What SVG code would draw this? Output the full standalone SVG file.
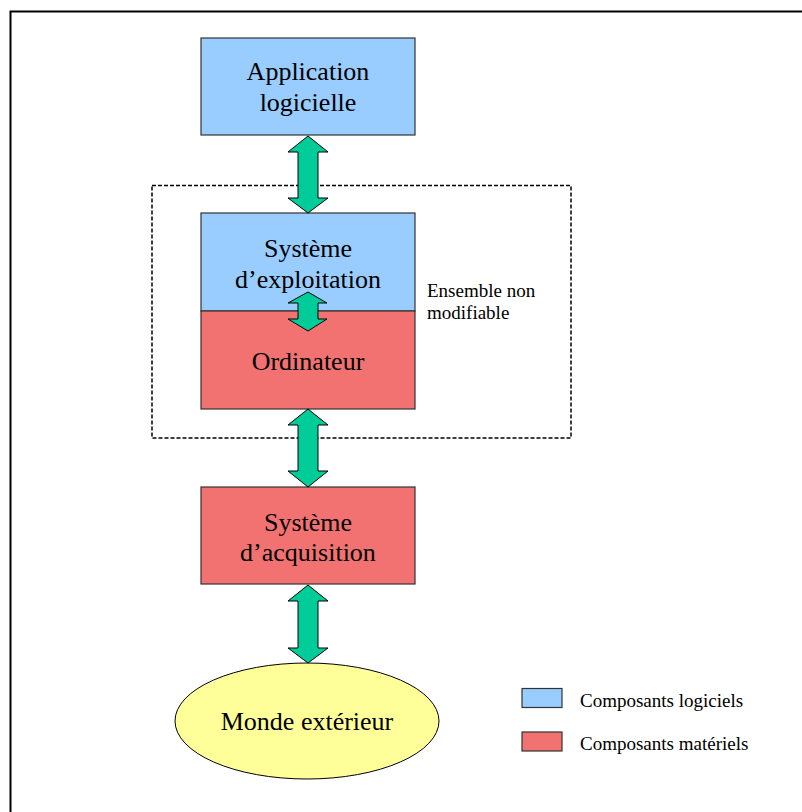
<svg xmlns="http://www.w3.org/2000/svg" width="802" height="812" viewBox="0 0 802 812">
<style>
  .t { font-family: "Liberation Serif", "Times New Roman", serif; fill: #000; }
  .big { font-size: 26px; text-anchor: middle; }
  .small { font-size: 19px; }
  .blue { fill: #99CCFF; stroke: #333; stroke-width: 1.2; }
  .red { fill: #F27272; stroke: #333; stroke-width: 1.2; }
  .arrow { fill: #00CC99; stroke: #000; stroke-width: 1; stroke-linejoin: miter; }
</style>
<rect width="802" height="812" fill="#fff"/>
<path d="M10.5,900 V11.5 H900" fill="none" stroke="#000" stroke-width="2"/>
<rect x="152" y="185.5" width="419" height="252.5" fill="none" stroke="#000" stroke-width="1.5" stroke-dasharray="4 2"/>
<g id="app">
  <rect class="blue" x="201" y="38" width="214" height="97"/>
  <text class="t big" x="308" y="80">Application</text>
  <text class="t big" x="308" y="111">logicielle</text>
</g>
<g id="os">
  <rect class="blue" x="201" y="213" width="214" height="98"/>
  <text class="t big" x="308" y="257">Système</text>
  <text class="t big" x="308" y="288">d’exploitation</text>
</g>
<g id="ordi">
  <rect class="red" x="201" y="311" width="214" height="98"/>
  <text class="t big" x="308" y="370">Ordinateur</text>
</g>
<g id="acq">
  <rect class="red" x="201" y="487" width="214" height="97"/>
  <text class="t big" x="308" y="531">Système</text>
  <text class="t big" x="308" y="561">d’acquisition</text>
</g>
<g id="monde">
  <ellipse cx="307" cy="721" rx="132" ry="58" fill="#FFFF99" stroke="#000" stroke-width="1"/>
  <text class="t big" x="307" y="730">Monde extérieur</text>
</g>
<g id="label">
  <text class="t small" x="427" y="297">Ensemble non</text>
  <text class="t small" x="427" y="319">modifiable</text>
</g>
<g id="legend">
  <rect class="blue" x="522" y="688.5" width="40" height="19"/>
  <text class="t small" x="580" y="707">Composants logiciels</text>
  <rect class="red" x="522" y="732" width="40" height="19"/>
  <text class="t small" x="580" y="750">Composants matériels</text>
</g>
<g id="connectors">
  <polygon class="arrow" points="308,136 328,152 318,152 318,198 328,198 308,213 288,198 298,198 298,152 288,152"/>
  <polygon class="arrow" points="308,292 327,303 318,303 318,319 327,319 308,331 288,319 298,319 298,303 288,303"/>
  <polygon class="arrow" points="308,409 328,425 318,425 318,471 328,471 308,487 288,471 298,471 298,425 288,425"/>
  <polygon class="arrow" points="308,585 328,601 318,601 318,648 328,648 308,663 288,648 298,648 298,601 288,601"/>
</g>
</svg>
